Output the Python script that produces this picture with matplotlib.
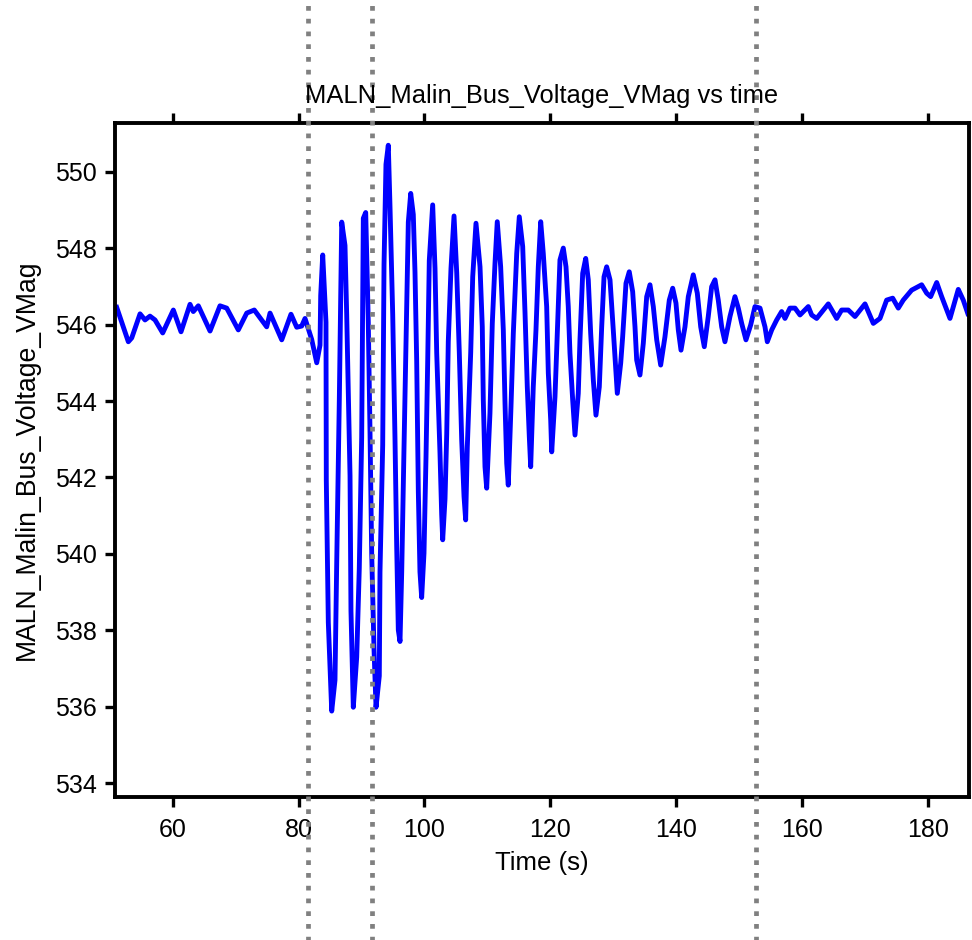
"""Bus voltage magnitude trace with event markers."""
import matplotlib

matplotlib.use("Agg")
import matplotlib.pyplot as plt

time_s = [
    51.1, 52.95, 53.49, 54.81, 55.6, 56.39, 57.19, 58.41, 60.1, 61.32,
    62.75, 63.27, 64.07, 65.93, 67.51, 68.58, 70.42, 71.76, 72.96, 74.93,
    75.46, 77.32, 78.79, 79.7, 80.49, 81.02,
    82.08, 82.88, 83.4, 83.51, 83.83, 84.35, 84.4, 84.72, 85.26, 85.78,
    86.05, 86.47, 86.85, 87.37, 87.64, 88.17, 88.32, 88.69, 89.23, 89.64,
    90.02, 90.28, 90.66, 91.07, 91.34, 91.61, 91.98, 92.3, 92.82, 92.93,
    93.36, 93.57, 93.88, 94.25, 94.52, 94.95, 95.31, 95.58, 95.84, 96.11,
    96.38, 96.74, 97.17, 97.43, 97.81, 98.22, 98.49, 98.76, 99.02, 99.28,
    99.55, 99.92, 100.24, 100.51, 100.76, 101.3, 101.67, 101.94, 102.46, 102.73,
    102.89, 103.26, 103.53, 103.78, 104.21, 104.69, 105.12, 105.53, 105.91, 106.28,
    106.54, 106.8, 107.34, 107.66, 108.18, 108.82, 109.18, 109.34, 109.61, 109.88,
    110.4, 110.77, 111.2, 111.56, 112.1, 112.52, 112.79, 113.06, 113.31, 113.74,
    114.11, 114.65, 115.06, 115.6, 115.97, 116.33, 116.65, 116.87, 117.28, 117.71,
    118.08, 118.46, 118.87, 119.41, 119.67, 120.05, 120.21, 120.73, 121.1, 121.52,
    122.05, 122.48, 122.84, 123.11, 123.54, 123.91, 124.43, 124.7, 125.13, 125.61,
    126.02, 126.4, 126.82, 127.24, 127.77, 128.15, 128.52, 128.94, 129.47, 129.99,
    130.63, 131.17, 131.48, 132.01, 132.53, 133.07, 133.44, 133.71, 134.23, 134.76,
    135.3, 135.82, 136.35, 136.89, 137.52, 138.2, 138.89, 139.43, 139.95, 140.32,
    140.75, 141.38, 141.91, 142.7, 143.34, 143.88, 144.45, 145.08, 145.62, 146.15,
    146.67, 147.21, 147.73, 148.53, 149.32, 149.85, 150.39, 151.07, 151.82, 152.5,
    153.3, 154.09, 154.46, 155.16, 155.95, 156.74, 157.27, 158.06, 158.86, 159.65,
    160.97, 161.51, 162.3, 164.15, 165.48, 166.27, 167.32, 168.39, 169.98, 171.3,
    172.36, 173.42, 174.38, 175.27, 176.06, 177.39, 178.98, 179.78, 180.41, 181.37,
    182.16, 183.48, 184.8, 185.59, 186.39, 187.2,
]

vmag = [
    546.45, 545.55, 545.65, 546.28, 546.12, 546.22, 546.12, 545.78, 546.38, 545.81,
    546.53, 546.34, 546.49, 545.83, 546.49, 546.43, 545.86, 546.3, 546.38, 545.94,
    546.3, 545.6, 546.27, 545.93, 545.96, 546.16,
    545.61, 545.0, 545.46, 546.76, 547.82, 546.06, 541.93, 538.21, 535.89, 536.7,
    539.72, 544.05, 548.68, 548.07, 546.26, 542.04, 538.51, 535.99, 537.3, 539.62,
    543.04, 548.78, 548.93, 546.06, 543.24, 540.02, 537.51, 535.99, 536.81, 539.53,
    542.85, 547.57, 550.19, 550.69, 549.08, 546.26, 543.04, 540.22, 538.01, 537.71,
    539.53, 542.74, 546.36, 548.68, 549.43, 548.88, 547.37, 545.05, 541.63, 539.53,
    538.86, 540.02, 542.54, 545.05, 547.67, 549.13, 547.47, 545.26, 542.64, 541.03,
    540.37, 541.44, 543.14, 545.56, 547.47, 548.84, 547.35, 545.26, 542.98, 541.5,
    540.89, 542.8, 545.26, 547.25, 548.65, 547.51, 545.94, 544.03, 542.28, 541.72,
    543.68, 546.03, 547.6, 548.69, 547.51, 545.86, 543.94, 542.37, 541.8, 543.85,
    545.77, 547.86, 548.82, 548.04, 546.3, 544.37, 543.07, 542.28, 544.37, 545.86,
    547.51, 548.69, 547.86, 546.47, 544.73, 543.5, 542.67, 544.11, 545.77, 547.69,
    548.0, 547.51, 546.47, 545.25, 544.03, 543.11, 544.2, 545.6, 547.34, 547.73,
    547.17, 545.77, 544.55, 543.63, 544.37, 545.94, 547.25, 547.51, 547.17, 545.86,
    544.2, 544.99, 545.68, 547.08, 547.38, 546.86, 545.94, 545.07, 544.68, 545.51,
    546.73, 547.04, 546.47, 545.6, 544.94, 545.68, 546.64, 546.95, 546.56, 545.86,
    545.33, 545.94, 546.73, 547.3, 546.82, 545.94, 545.42, 546.21, 546.99, 547.17,
    546.64, 545.94, 545.55, 546.21, 546.73, 546.43, 546.03, 545.6, 545.99, 546.47,
    546.43, 545.94, 545.55, 545.86, 546.12, 546.34, 546.16, 546.43, 546.43, 546.25,
    546.47, 546.25, 546.16, 546.54, 546.16, 546.38, 546.38, 546.21, 546.54, 546.03,
    546.16, 546.64, 546.69, 546.43, 546.64, 546.9, 547.04, 546.82, 546.73, 547.1,
    546.73, 546.16, 546.92, 546.64, 546.25, 546.3,
]

event_times = [81.5, 91.7, 152.6]

plt.rcParams["font.family"] = ["Liberation Sans", "DejaVu Sans"]
plt.rcParams["font.size"] = 18

fig = plt.figure(figsize=(9.72, 9.40), dpi=100)
ax = fig.add_axes([0.1183, 0.1524, 0.8786, 0.7171])

ax.plot(time_s, vmag, color="#0000ff", linewidth=3.5, solid_joinstyle="round")

for t in event_times:
    ax.axvline(
        t,
        ymin=-0.22,
        ymax=1.19,
        color="#808080",
        linewidth=3.4,
        linestyle=(0, (1, 1.7)),
        clip_on=False,
        zorder=3,
    )

ax.set_xlim(50.83, 186.5)
ax.set_ylim(533.65, 551.28)
ax.set_xticks([60, 80, 100, 120, 140, 160, 180])
ax.set_yticks([534, 536, 538, 540, 542, 544, 546, 548, 550])

for side in ["left", "right", "top", "bottom"]:
    ax.spines[side].set_linewidth(2.8)

ax.tick_params(axis="x", which="major", direction="out", length=7, width=2.4,
               pad=8, top=True, labeltop=False)
ax.tick_params(axis="y", which="major", direction="out", length=7, width=2.4,
               pad=6, right=False)

ax.set_xlabel("Time (s)", fontsize=18.5, labelpad=7)
ax.set_ylabel("MALN_Malin_Bus_Voltage_VMag", fontsize=19.2, labelpad=11)
ax.set_title("MALN_Malin_Bus_Voltage_VMag vs time", fontsize=18.4, pad=14)

fig.savefig("out.png", dpi=100)
